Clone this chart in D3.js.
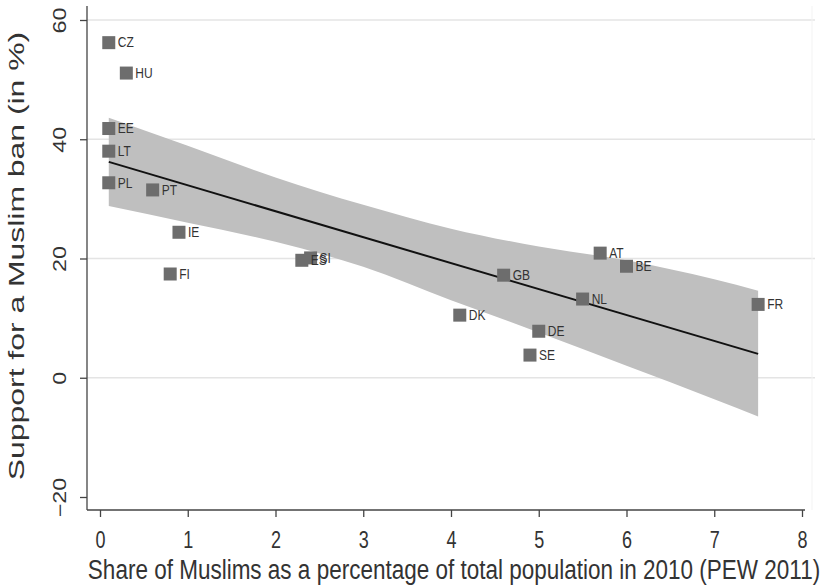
<!DOCTYPE html>
<html>
<head>
<meta charset="utf-8">
<script src="https://cdn.jsdelivr.net/npm/d3@7/dist/d3.min.js"></script>
<style>
  html, body { margin: 0; padding: 0; background: #fff; }
  svg { display: block; font-family: "Liberation Sans", Arial, sans-serif; }
</style>
</head>
<body>
<svg id="chart" width="826" height="587"></svg>
<script>
// Country codes and their values
const countries = ["CZ","HU","EE","LT","PL","PT","IE","FI","ES","SI","DK","GB","DE","SE","NL","AT","BE","FR"];
const muslimShare = [0.1, 0.3, 0.1, 0.1, 0.1, 0.6, 0.9, 0.8, 2.3, 2.4, 4.1, 4.6, 5.0, 4.9, 5.5, 5.7, 6.0, 7.5];
const banSupport = [56.2, 51.1, 41.8, 38.0, 32.7, 31.5, 24.4, 17.4, 19.7, 20.1, 10.5, 17.2, 7.8, 3.8, 13.2, 20.9, 18.7, 12.3];

// Fitted line and its confidence band
const fitX = [0.1, 7.5];
const fitY = [36.2, 4.0];
const bandX = [0.1, 1, 2, 3, 4, 5, 6, 7, 7.5];
const bandUpper = [43.6, 38.9, 33.6, 29.0, 25.0, 22.0, 19.7, 16.5, 14.6];
const bandLower = [28.8, 26.0, 22.8, 18.6, 13.0, 7.6, 2.0, -3.6, -6.5];

// Axis ticks
const xTicks = [0, 1, 2, 3, 4, 5, 6, 7, 8];
const yTicks = [-20, 0, 20, 40, 60];
const yGrid = [0, 20, 40, 60];

const svg = d3.select("#chart");
const x = d3.scaleLinear().domain([0, 8]).range([100, 802]);
const y = d3.scaleLinear().domain([-20, 60]).range([497, 20]);

const plotLeft = 87, plotBottom = 510, plotRight = 812, plotTop = 6;
const textStretch = 1.3; // lettering is drawn tall and narrow

// gridlines
svg.append("g").selectAll("line").data(yGrid).join("line")
  .attr("x1", plotLeft).attr("x2", 815)
  .attr("y1", d => y(d)).attr("y2", d => y(d))
  .attr("stroke", "#e4e4e4").attr("stroke-width", 1.5);

svg.append("line").attr("x1", plotRight).attr("x2", plotRight).attr("y1", plotTop).attr("y2", plotBottom)
  .attr("stroke", "#f3f3f3").attr("stroke-width", 1);

// confidence band
const band = bandX.map((v, i) => ({x: v, lo: bandLower[i], hi: bandUpper[i]}));
svg.append("path").datum(band)
  .attr("d", d3.area().curve(d3.curveMonotoneX).x(d => x(d.x)).y0(d => y(d.lo)).y1(d => y(d.hi)))
  .attr("fill", "#bfbfbf");

// fitted line
svg.append("path").datum(fitX.map((v, i) => [v, fitY[i]]))
  .attr("d", d3.line().x(d => x(d[0])).y(d => y(d[1])))
  .attr("fill", "none").attr("stroke", "#111").attr("stroke-width", 2);

// points
const pts = countries.map((c, i) => ({c, x: muslimShare[i], y: banSupport[i]}));
const g = svg.append("g");
g.selectAll("rect").data(pts).join("rect")
  .attr("x", d => x(d.x) - 6.5).attr("y", d => y(d.y) - 6.5)
  .attr("width", 13).attr("height", 13)
  .attr("fill", "#6d6d6d");
g.selectAll("text").data(pts).join("text")
  .attr("transform", d => `translate(${x(d.x) + 9},${y(d.y) + 1}) scale(1,1.2)`)
  .attr("dominant-baseline", "middle")
  .attr("font-size", 12).attr("fill", "#333")
  .text(d => d.c);

// y axis
const yAxis = svg.append("g").attr("transform", `translate(${plotLeft},0)`)
  .call(d3.axisLeft(y).tickValues(yTicks).tickSize(7).tickPadding(0).tickFormat(d3.format("d")));
yAxis.select(".domain").attr("d", `M0,${plotTop}V${plotBottom}`).attr("stroke", "#444").attr("stroke-width", 1.3);
yAxis.selectAll(".tick line").attr("stroke", "#444").attr("stroke-width", 1.3);
yAxis.selectAll(".tick text")
  .attr("x", 0).attr("y", 0).attr("dy", 0)
  .attr("transform", `translate(-26,0) rotate(-90) scale(${textStretch},1)`)
  .attr("text-anchor", "middle").attr("dominant-baseline", "middle")
  .attr("font-size", 18).attr("fill", "#333");

// x axis
const xAxis = svg.append("g").attr("transform", `translate(0,${plotBottom})`)
  .call(d3.axisBottom(x).tickValues(xTicks).tickSize(7).tickFormat(d3.format("d")));
xAxis.select(".domain").attr("d", `M${plotLeft},0H805`).attr("stroke", "#444").attr("stroke-width", 1.3);
xAxis.selectAll(".tick line").attr("stroke", "#444").attr("stroke-width", 1.3);
xAxis.selectAll(".tick text")
  .attr("y", 0).attr("dy", 0)
  .attr("transform", `translate(0,32) scale(1,${textStretch})`)
  .attr("dominant-baseline", "middle")
  .attr("font-size", 18).attr("fill", "#333");

// axis titles
svg.append("text")
  .attr("transform", `translate(18,256) rotate(-90) scale(1.45,1)`)
  .attr("text-anchor", "middle").attr("dominant-baseline", "middle")
  .attr("font-size", 22).attr("fill", "#333")
  .text("Support for a Muslim ban (in %)");

svg.append("text")
  .attr("transform", `translate(454,572) scale(1,1.2)`)
  .attr("text-anchor", "middle").attr("dominant-baseline", "middle")
  .attr("font-size", 22.5).attr("fill", "#333")
  .text("Share of Muslims as a percentage of total population in 2010 (PEW 2011)");
</script>
</body>
</html>
